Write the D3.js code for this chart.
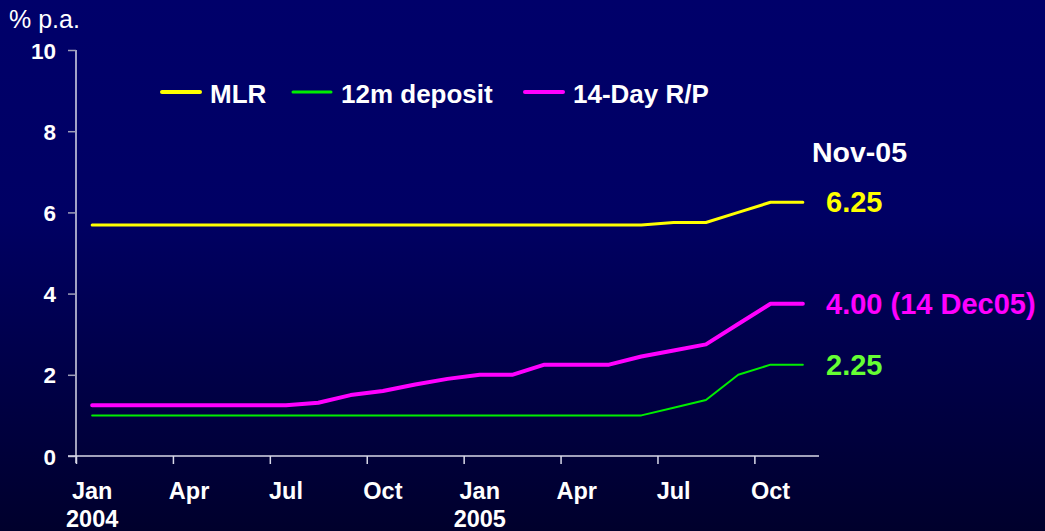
<!DOCTYPE html>
<html>
<head>
<meta charset="utf-8">
<script src="https://cdn.jsdelivr.net/npm/d3@7"></script>
<style>
  html, body { margin: 0; padding: 0; background: #000050; }
  svg { display: block; font-family: "Liberation Sans", Arial, sans-serif; }
</style>
</head>
<body>
<svg id="chart" width="1045" height="531"></svg>
<script>
// monthly observations, Jan 2004 .. Nov 2005
const months = ['Jan04','Feb04','Mar04','Apr04','May04','Jun04','Jul04','Aug04','Sep04','Oct04','Nov04','Dec04',
                'Jan05','Feb05','Mar05','Apr05','May05','Jun05','Jul05','Aug05','Sep05','Oct05','Nov05'];

const mlr = [5.69,5.69,5.69,5.69,5.69,5.69,5.69,5.69,5.69,5.69,5.69,5.69,
             5.69,5.69,5.69,5.69,5.69,5.69,5.75,5.75,6.0,6.25,6.25];
const deposit12m = [1.0,1.0,1.0,1.0,1.0,1.0,1.0,1.0,1.0,1.0,1.0,1.0,
                    1.0,1.0,1.0,1.0,1.0,1.0,1.19,1.38,2.0,2.25,2.25];
const rp14 = [1.25,1.25,1.25,1.25,1.25,1.25,1.25,1.31,1.5,1.6,1.76,1.9,
              2.0,2.0,2.25,2.25,2.25,2.45,2.6,2.75,3.25,3.75,3.75];

const yTicks = [0, 2, 4, 6, 8, 10];
const xTickMonths = [0, 3, 6, 9, 12, 15, 18, 21];
const xTickLabels = ['Jan','Apr','Jul','Oct','Jan','Apr','Jul','Oct'];
const yearLabels = [{ m: 0, text: '2004' }, { m: 12, text: '2005' }];

const seriesNames = ['MLR', '12m deposit', '14-Day R/P'];
const seriesColors = ['#ffff00', '#00ee00', '#ff00ff'];
const seriesWidths = [3, 2, 4];
const endLabels = ['6.25', '2.25', '4.00 (14 Dec05)'];
const endLabelColors = ['#ffff00', '#66ff33', '#ff00ff'];
const endLabelY = [6.25, 2.25, 3.75];

const svg = d3.select('#chart');
const width = 1045, height = 531;

// background
const defs = svg.append('defs');
const grad = defs.append('linearGradient').attr('id', 'bg')
    .attr('x1', 0).attr('y1', 0).attr('x2', 0).attr('y2', 1);
grad.append('stop').attr('offset', '0%').attr('stop-color', '#00006a');
grad.append('stop').attr('offset', '40%').attr('stop-color', '#000064');
grad.append('stop').attr('offset', '100%').attr('stop-color', '#00002c');
svg.append('rect').attr('width', width).attr('height', height).attr('fill', 'url(#bg)');

const x = d3.scaleLinear().domain([0, months.length]).range([76, 819]);
const y = d3.scaleLinear().domain([0, 10]).range([456, 50]);

// y axis
const yAxis = svg.append('g').attr('transform', 'translate(76,0)')
    .call(d3.axisLeft(y).tickValues(yTicks).tickSize(8).tickPadding(12).tickFormat(d3.format('d')));
yAxis.select('.domain').attr('stroke', '#d8d8e8').attr('stroke-width', 1.5)
    .attr('d', 'M0,' + y(10) + 'V' + (y(0) + 7));
yAxis.selectAll('.tick line').attr('stroke', '#a0a0b8').attr('stroke-width', 1.5);
yAxis.selectAll('.tick text').attr('fill', '#ffffff').attr('font-size', 22.5)
    .attr('font-weight', 'bold').attr('font-family', '"Liberation Sans", Arial, sans-serif')
    .attr('dy', '0.36em');

// x axis
const xAxis = svg.append('g').attr('transform', 'translate(0,456)')
    .call(d3.axisBottom(x).tickValues(xTickMonths).tickSize(8).tickFormat(''));
xAxis.select('.domain').attr('stroke', '#d8d8e8').attr('stroke-width', 1.5)
    .attr('d', 'M68,0H' + x(months.length));
xAxis.selectAll('.tick line').attr('stroke', '#d8d8e8').attr('stroke-width', 1.5);

svg.append('g').selectAll('text.xl')
    .data(xTickMonths)
    .join('text')
    .attr('x', (d) => x(d + 0.5))
    .attr('y', 499)
    .attr('text-anchor', 'middle')
    .attr('fill', '#ffffff').attr('font-size', 23.5).attr('font-weight', 'bold')
    .text((d, i) => xTickLabels[i]);

svg.append('g').selectAll('text.yr')
    .data(yearLabels)
    .join('text')
    .attr('x', (d) => x(d.m + 0.5))
    .attr('y', 527)
    .attr('text-anchor', 'middle')
    .attr('fill', '#ffffff').attr('font-size', 23.5).attr('font-weight', 'bold')
    .text((d) => d.text);

// unit label
svg.append('text').attr('x', 9).attr('y', 28)
    .attr('fill', '#ffffff').attr('font-size', 25)
    .text('% p.a.');

// lines
const allSeries = [mlr, deposit12m, rp14];
const line = d3.line()
    .x((d, i) => x(i + 0.5))
    .y((d) => y(d));

svg.append('g').selectAll('path.series')
    .data(allSeries)
    .join('path')
    .attr('fill', 'none')
    .attr('stroke', (d, i) => seriesColors[i])
    .attr('stroke-width', (d, i) => seriesWidths[i])
    .attr('stroke-linejoin', 'round')
    .attr('stroke-linecap', 'round')
    .attr('d', line);

// legend
const legendX = [162, 293, 525];
const legend = svg.append('g').selectAll('g')
    .data(seriesNames)
    .join('g')
    .attr('transform', (d, i) => 'translate(' + legendX[i] + ',92)');
legend.append('line')
    .attr('x1', 0).attr('x2', 38)
    .attr('stroke', (d, i) => seriesColors[i])
    .attr('stroke-width', (d, i) => i === 1 ? 3 : 4)
    .attr('stroke-linecap', 'round');
legend.append('text')
    .attr('x', 48).attr('y', 11)
    .attr('fill', '#ffffff').attr('font-size', 26).attr('font-weight', 'bold')
    .text((d) => d);

// end-of-period annotations
svg.append('text').attr('x', 812).attr('y', 162)
    .attr('fill', '#ffffff').attr('font-size', 28.5).attr('font-weight', 'bold')
    .text('Nov-05');

svg.append('g').selectAll('text.end')
    .data(endLabels)
    .join('text')
    .attr('x', 826)
    .attr('y', (d, i) => y(endLabelY[i]) + 10)
    .attr('fill', (d, i) => endLabelColors[i])
    .attr('font-size', 29).attr('font-weight', 'bold')
    .text((d) => d);
</script>
</body>
</html>
